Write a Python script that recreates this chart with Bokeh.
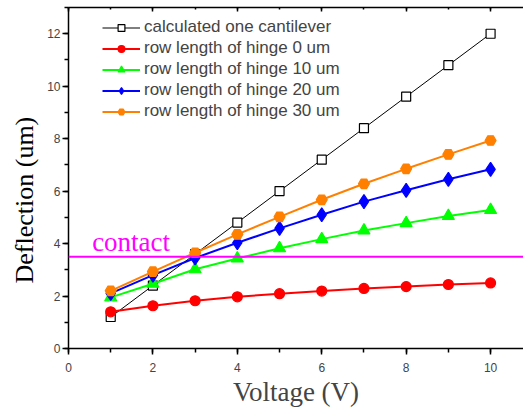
from bokeh.plotting import figure
from bokeh.models import Range1d, LinearAxis, SingleIntervalTicker, Legend, LegendItem, Span, Label, Title
from bokeh.embed import file_html
from bokeh.resources import INLINE

voltage = [1, 2, 3, 4, 5, 6, 7, 8, 9, 10]
calc_one = [1.2, 2.4, 3.6, 4.8, 6.0, 7.2, 8.4, 9.6, 10.8, 12.0]
hinge0 = [1.4, 1.63, 1.82, 1.97, 2.09, 2.19, 2.29, 2.36, 2.44, 2.50]
hinge10 = [1.95, 2.47, 3.02, 3.43, 3.82, 4.17, 4.50, 4.78, 5.05, 5.28]
hinge20 = [2.1, 2.8, 3.45, 4.03, 4.58, 5.1, 5.6, 6.03, 6.45, 6.83]
hinge30 = [2.2, 2.93, 3.65, 4.35, 5.02, 5.67, 6.28, 6.85, 7.40, 7.93]
contact_level = 3.5
labels = ["calculated one cantilever", "row length of hinge 0 um", "row length of hinge 10 um",
          "row length of hinge 20 um", "row length of hinge 30 um"]

p = figure(width=523, height=409, output_backend="svg", toolbar_location=None,
           x_range=Range1d(0, 10.78), y_range=Range1d(0, 13),
           min_border_left=68, min_border_right=0, min_border_top=7, min_border_bottom=0)
p.xgrid.visible = False
p.ygrid.visible = False
p.outline_line_color = None
p.background_fill_color = "white"

for ax in (p.xaxis[0], p.yaxis[0]):
    ax.ticker = SingleIntervalTicker(interval=2, num_minor_ticks=2)
    ax.major_tick_out = 6
    ax.major_tick_in = 0
    ax.minor_tick_out = 4
    ax.minor_tick_in = 0
    ax.axis_line_width = 1.5
    ax.major_tick_line_width = 1.5
    ax.minor_tick_line_width = 1.5
    ax.major_label_text_font = "Liberation Sans"
    ax.major_label_text_font_size = "12px"
    ax.axis_label_text_font = "Liberation Serif"
    ax.axis_label_text_font_size = "27px"
    ax.axis_label_text_font_style = "normal"

p.xaxis.axis_label = "Voltage (V)"
p.xaxis.major_label_standoff = 8
p.yaxis.major_label_standoff = 2
p.xaxis.axis_label_standoff = 2

ytitle = Title(text="Deflection (um)", align="left", offset=65, standoff=12,
               text_font="Liberation Serif", text_font_size="26px", text_font_style="normal",
               text_color="black")
p.add_layout(ytitle, "left")

top = LinearAxis(ticker=SingleIntervalTicker(interval=2, num_minor_ticks=2),
                 major_tick_in=4, major_tick_out=0, minor_tick_in=2, minor_tick_out=0,
                 major_label_overrides={i: "" for i in range(0, 14, 2)},
                 major_label_standoff=0, major_label_text_font_size="12px",
                 axis_line_width=1.5, major_tick_line_width=1.5, minor_tick_line_width=1.5)
p.add_layout(top, "above")

p.add_layout(Span(location=contact_level, dimension="width", line_color="#ff00ff", line_width=2))
p.add_layout(Label(x=0.56, y=4.07, text="contact", text_color="#ff00ff", text_baseline="alphabetic",
                   text_font="Liberation Serif", text_font_size="27px"))

series = [
    (calc_one, "black", "square", 1, "white", 9),
    (hinge0, "#ff0000", "circle", 2, "#ff0000", 10),
    (hinge10, "#00ff00", "triangle", 2, "#00ff00", 12),
    (hinge20, "#0000ff", "diamond", 2, "#0000ff", 14),
    (hinge30, "#ff8000", "hex", 2, "#ff8000", 11),
]
items = []
for (vals, col, mk, lw, fill, sz), lab in zip(series, labels):
    r1 = p.line(voltage, vals, line_color=col, line_width=lw)
    r2 = p.scatter(voltage, vals, marker=mk, size=sz, line_color=col, fill_color=fill, line_width=1.2)
    items.append(LegendItem(label=lab, renderers=[r1, r2]))

leg = Legend(items=items, location=(34, 227), border_line_color=None, background_fill_alpha=0,
             label_text_font="Liberation Sans", label_text_font_size="17px",
             glyph_width=38, glyph_height=17, label_height=17, spacing=1, padding=0,
             margin=0, label_standoff=4)
p.add_layout(leg, "center")

open("out.html", "w").write(file_html(p, INLINE))
